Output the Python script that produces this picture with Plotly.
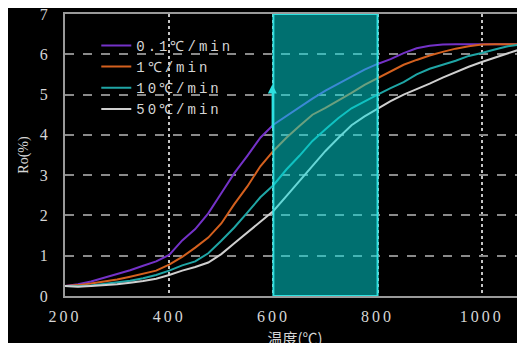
import plotly.graph_objects as go

temps = [200, 225, 250, 275, 300, 325, 350, 375, 400, 425, 450, 475, 500, 525, 550, 575,
         600, 625, 650, 675, 700, 725, 750, 775, 800, 825, 850, 875, 900, 925, 950, 975,
         1000, 1025, 1050, 1080]

ro_01 = [0.25, 0.29, 0.36, 0.45, 0.54, 0.64, 0.75, 0.86, 1.02, 1.38, 1.66, 2.05, 2.55, 3.05, 3.48, 3.93,
         4.25, 4.47, 4.68, 4.90, 5.10, 5.28, 5.45, 5.62, 5.76, 5.88, 6.03, 6.15, 6.21, 6.24, 6.25, 6.25,
         6.25, 6.25, 6.25, 6.25]
ro_1 = [0.25, 0.27, 0.31, 0.36, 0.41, 0.48, 0.55, 0.63, 0.78, 0.97, 1.20, 1.45, 1.80, 2.28, 2.72, 3.22,
        3.60, 3.93, 4.22, 4.50, 4.67, 4.85, 5.04, 5.24, 5.40, 5.57, 5.74, 5.86, 5.97, 6.06, 6.14, 6.20,
        6.24, 6.25, 6.25, 6.25]
ro_10 = [0.25, 0.24, 0.26, 0.30, 0.33, 0.38, 0.44, 0.52, 0.63, 0.76, 0.86, 1.06, 1.37, 1.70, 2.07, 2.45,
         2.75, 3.14, 3.48, 3.85, 4.14, 4.42, 4.66, 4.84, 5.00, 5.16, 5.31, 5.50, 5.64, 5.74, 5.84, 5.96,
         6.03, 6.12, 6.20, 6.25]
ro_50 = [0.25, 0.23, 0.25, 0.27, 0.29, 0.33, 0.37, 0.43, 0.52, 0.63, 0.72, 0.83, 1.04, 1.31, 1.58, 1.85,
         2.11, 2.48, 2.85, 3.24, 3.60, 3.93, 4.24, 4.46, 4.65, 4.84, 5.00, 5.13, 5.27, 5.42, 5.56, 5.69,
         5.81, 5.92, 6.03, 6.15]

series_names = ["0.1℃/min", "1℃/min", "10℃/min", "50℃/min"]
series_values = [ro_01, ro_1, ro_10, ro_50]
series_colors = ["#7432c8", "#d4601e", "#1fa5a5", "#cfcfcf"]

x_tickvals = [200, 400, 600, 800, 1000]
x_ticktext = ["200", "400", "600", "800", "1000"]
y_tickvals = [0, 1, 2, 3, 4, 5, 6, 7]
y_ticktext = ["0", "1", "2", "3", "4", "5", "6", "7"]

band_x = [600, 800]
band_y = [0, 7]
arrow_point = (598, 5.25)

fig = go.Figure()
for name, vals, col in zip(series_names, series_values, series_colors):
    fig.add_trace(go.Scatter(
        x=temps, y=vals, mode="lines", name=f'<span style="letter-spacing:3px">{name}</span>',
        line=dict(color=col, width=2)))

fig.add_shape(type="rect", xref="x", yref="y", x0=band_x[0], x1=band_x[1], y0=band_y[0], y1=band_y[1],
              fillcolor="rgba(0,224,224,0.5)", line=dict(color="#2ee0e0", width=2), layer="above")

fig.add_annotation(x=arrow_point[0], y=arrow_point[1], xref="x", yref="y", text="",
                   showarrow=True, ax=0, ay=45, arrowhead=2, arrowsize=1.2, arrowwidth=1.5,
                   arrowcolor="#2ee0e0")

tick_font = dict(family="Liberation Serif", size=16, color="#d6d6d6")

fig.update_layout(
    width=525, height=343,
    paper_bgcolor="black", plot_bgcolor="black",
    margin=dict(l=57, r=8, t=6, b=55),
    showlegend=True,
    legend=dict(x=0.068, y=0.944, xanchor="left", yanchor="top", bgcolor="rgba(0,0,0,0)",
                font=dict(family="Liberation Mono", size=14, color="#d6d6d6"),
                tracegroupgap=0, itemwidth=30),
    xaxis=dict(range=[200, 1083], tickvals=x_tickvals,
               ticktext=[f'<span style="letter-spacing:3px">{t}</span>' for t in x_ticktext],
               tickfont=tick_font, showgrid=True, griddash="dot", gridcolor="#c4c4c4", gridwidth=2,
               showline=True, linecolor="#9a9a9a", linewidth=2, mirror=True, zeroline=False,
               ticks="", ticklabelstandoff=5, automargin=False, ticklabeloverflow="allow",
               title=dict(text="温度(℃)", font=dict(family="Noto Sans CJK SC", size=15, color="#d6d6d6"),
                          standoff=9)),
    yaxis=dict(range=[0, 7], tickvals=y_tickvals, ticktext=y_ticktext, tickfont=tick_font,
               showgrid=True, griddash="dash", gridcolor="#8a8a8a", gridwidth=1.5,
               showline=True, linecolor="#9a9a9a", linewidth=2, zeroline=False,
               ticks="", ticklabelstandoff=12, automargin=False, ticklabeloverflow="allow",
               title=dict(text="Ro(%)", font=dict(family="Liberation Serif", size=14, color="#d6d6d6"),
                          standoff=8)),
)

fig.write_html("out.html")
